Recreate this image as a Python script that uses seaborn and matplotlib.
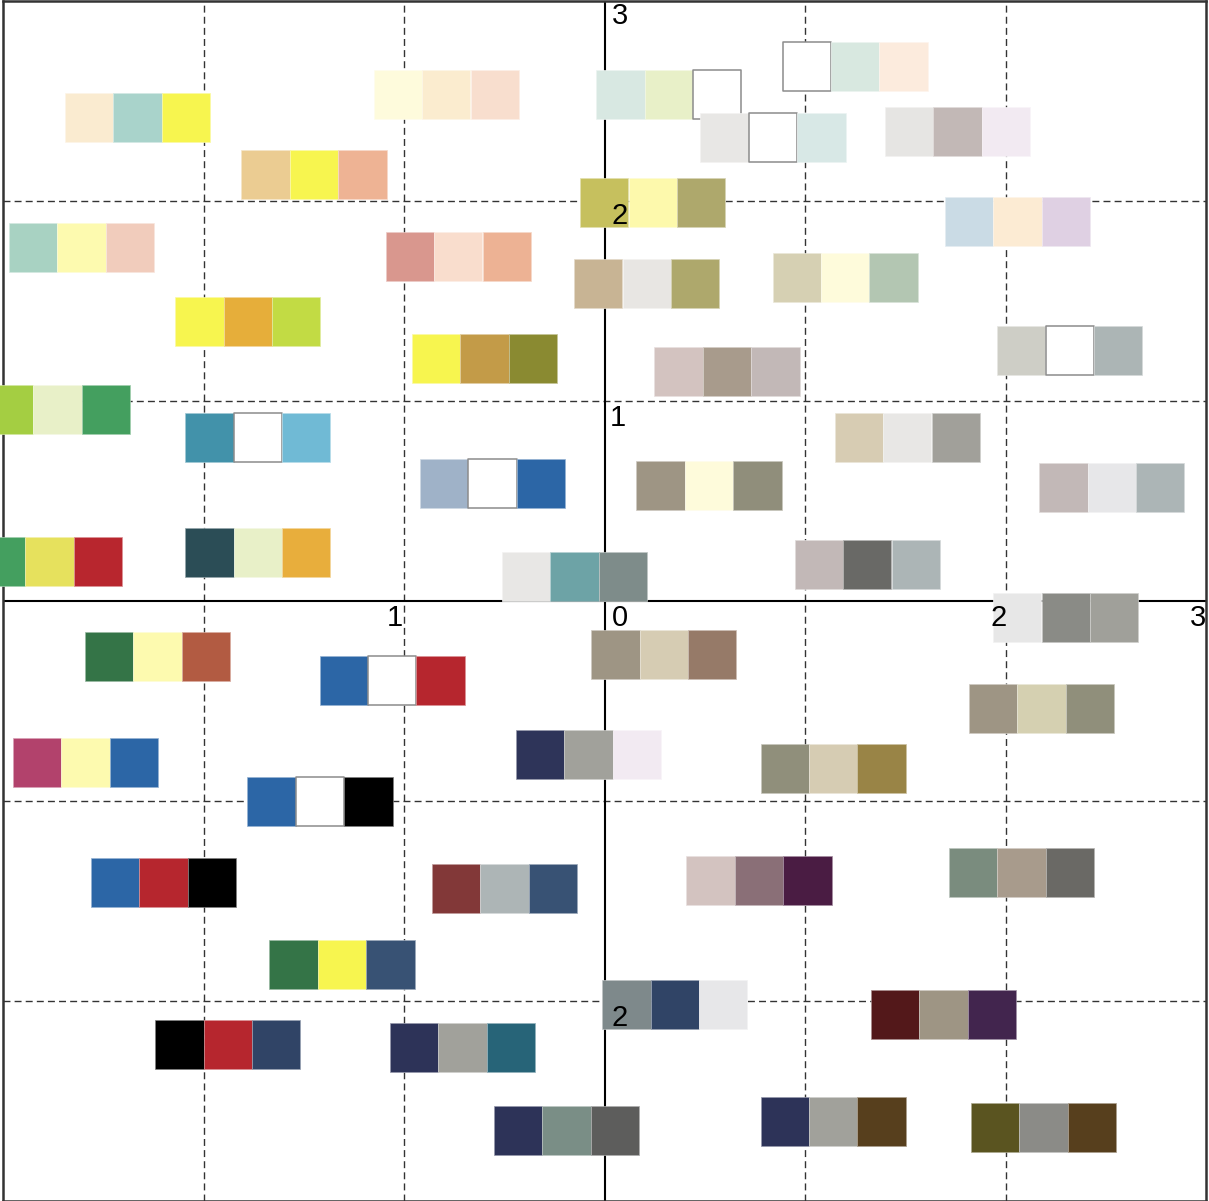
import matplotlib
matplotlib.use("Agg")
import matplotlib.pyplot as plt
import matplotlib.colors as mcolors
import numpy as np
import pandas as pd
import seaborn as sns

sns.set_theme(style="white")
plt.rcParams['font.family'] = ['Liberation Sans', 'DejaVu Sans']

# ---- data: centre of each three-colour swatch group (data coords) ----
group_x = [-2.33, -0.79, 0.32, 1.25, 0.84, 1.76, -1.45, 0.24, 2.06, -2.61,
           -0.73, 0.21, 1.20, -1.78, -0.60, 0.61, 2.32, -2.73, -1.73, -0.56,
           0.52, 1.51, 2.53, -2.77, -1.73, -0.15, 1.31, 2.30, -2.23, -1.06,
           0.295, 2.18, -2.59, -0.08, 1.14, -1.42, -2.20, -0.50, 0.77, 2.08,
           -1.31, 0.35, 1.69, -1.88, -0.71, -0.19, 1.14, 2.19]
group_y = [2.415, 2.53, 2.53, 2.67, 2.315, 2.345, 2.13, 1.99, 1.895, 1.765,
           1.72, 1.585, 1.615, 1.395, 1.21, 1.145, 1.25, 0.955, 0.815, 0.585,
           0.575, 0.815, 0.565, 0.195, 0.24, 0.12, 0.18, -0.085, -0.28, -0.40,
           -0.27, -0.54, -0.81, -0.77, -0.84, -1.005, -1.41, -1.44, -1.40, -1.36,
           -1.82, -2.02, -2.07, -2.22, -2.235, -2.65, -2.605, -2.635]
palettes = [
    ["#FAEBD0", "#A9D3CB", "#F7F54F"],
    ["#FEFBDC", "#FBECCF", "#F8DECE"],
    ["#D8E8E2", "#E8F0C8", "#FFFFFF"],
    ["#FFFFFF", "#D8E8E0", "#FCEBDD"],
    ["#E8E7E5", "#FFFFFF", "#D8E8E6"],
    ["#E6E5E3", "#C2B8B6", "#F2EAF2"],
    ["#EBCC92", "#F7F54F", "#EEB394"],
    ["#C6C05E", "#FDF9AC", "#AEA86C"],
    ["#CADBE5", "#FCEBD3", "#DFD0E3"],
    ["#A8D2C2", "#FDFAAF", "#F1CCBC"],
    ["#D9978E", "#F9DDCD", "#EDB294"],
    ["#C8B494", "#E8E6E3", "#AEA86C"],
    ["#D6D0B3", "#FEFBDB", "#B3C6B2"],
    ["#F7F54F", "#E6AE3A", "#C2DB44"],
    ["#F7F54F", "#C39B48", "#8A8A31"],
    ["#D3C3C0", "#A89B8C", "#C2B8B7"],
    ["#CECEC6", "#FFFFFF", "#ACB5B5"],
    ["#A4CE42", "#E8F0C8", "#449F5F"],
    ["#4292AA", "#FFFFFF", "#70BAD5"],
    ["#9FB2C8", "#FFFFFF", "#2C66A6"],
    ["#9E9584", "#FEFBDB", "#908E7B"],
    ["#D7CCB3", "#E8E7E5", "#A1A09A"],
    ["#C2B8B7", "#E7E7E9", "#ACB5B6"],
    ["#449F5F", "#E6E15D", "#B8262E"],
    ["#2B4D56", "#E8F0C8", "#E8AE3C"],
    ["#E8E7E5", "#6DA3A6", "#7E8C8A"],
    ["#C2B8B7", "#696966", "#ACB5B6"],
    ["#E7E7E7", "#8A8B86", "#A0A09A"],
    ["#347447", "#FDFAAF", "#B25B42"],
    ["#2C66A6", "#FFFFFF", "#B6262E"],
    ["#9E9584", "#D6CCB3", "#967A68"],
    ["#9E9584", "#D5D0B1", "#908F7B"],
    ["#B2426C", "#FDFAAF", "#2C66A6"],
    ["#2E3459", "#A1A19B", "#F2EAF2"],
    ["#908F7B", "#D6CCB3", "#998446"],
    ["#2C66A6", "#FFFFFF", "#000000"],
    ["#2C66A6", "#B6262E", "#000000"],
    ["#823838", "#ADB5B6", "#385274"],
    ["#D3C3C0", "#8A6F77", "#4A1C43"],
    ["#7A8C7E", "#A89B8C", "#6A6965"],
    ["#347447", "#F7F54F", "#385274"],
    ["#7E898B", "#304466", "#E7E7E9"],
    ["#53181A", "#9E9584", "#42254E"],
    ["#000000", "#B6262E", "#304466"],
    ["#2D3358", "#A1A19B", "#276478"],
    ["#2D3358", "#7A8E86", "#5D5D5C"],
    ["#2D3358", "#A1A19B", "#573F1D"],
    ["#5A5420", "#8B8B87", "#573F1D"],
]
label_text = ["3", "2", "1", "0", "1", "2", "3", "2"]
label_x = [0.075, 0.075, 0.065, 0.075, -1.045, 1.965, 2.96, 0.075]
label_y = [2.92, 1.925, 0.91, -0.085, -0.085, -0.085, -0.085, -2.085]

# ---- build long table of squares ----
W = 0.2417  # square width in data units
rows = []
for gx, gy, pal in zip(group_x, group_y, palettes):
    for k, c in enumerate(pal):
        rows.append(dict(x=gx + (k - 1) * W, y=gy, color=c))
df = pd.DataFrame(rows)

def edge_of(c):
    if c.upper() == "#FFFFFF":
        return (0.55, 0.55, 0.55, 1.0)
    r, g, b = mcolors.to_rgb(c)
    return (0.5 * r + 0.5, 0.5 * g + 0.5, 0.5 * b + 0.5, 1.0)

edges = [edge_of(c) for c in df["color"]]
lws = [1.1 if c.upper() == "#FFFFFF" else 0.5 for c in df["color"]]

fig = plt.figure(figsize=(12.09, 12.01), dpi=100)
ax = fig.add_axes([3.3 / 1209, 0.5 / 1201, 1202.7 / 1209, 1200 / 1201])
ax.set_xlim(-3, 3)
ax.set_ylim(-3, 3)

# dashed grid
for v in [-2, -1, 1, 2]:
    ax.axvline(v, color="#333333", lw=1.0, ls=(0, (5, 3)), zorder=1)
    ax.axhline(v, color="#333333", lw=1.0, ls=(0, (5, 3)), zorder=1)

# centre axes (under the swatches)
ax.axvline(0, color="black", lw=1.5, zorder=1.5)
ax.axhline(0, color="black", lw=1.5, zorder=1.5)

side_pt = W * 200 * 0.72
sns.scatterplot(data=df, x="x", y="y", hue="color",
                palette={c: c for c in df["color"].unique()},
                marker="s", s=side_pt ** 2, edgecolor=edges, linewidth=lws,
                legend=False, ax=ax, zorder=3, clip_on=False)

for t, x, y in zip(label_text, label_x, label_y):
    ax.text(x, y, t, ha="center", va="center", fontsize=21, color="black", zorder=4)

ax.set_xticks([])
ax.set_yticks([])
ax.set_xlabel("")
ax.set_ylabel("")
for sp in ax.spines.values():
    sp.set_color("#333333")
    sp.set_linewidth(1.8)
    sp.set_visible(True)
    sp.set_zorder(1.6)

fig.savefig("out.png", dpi=100)
